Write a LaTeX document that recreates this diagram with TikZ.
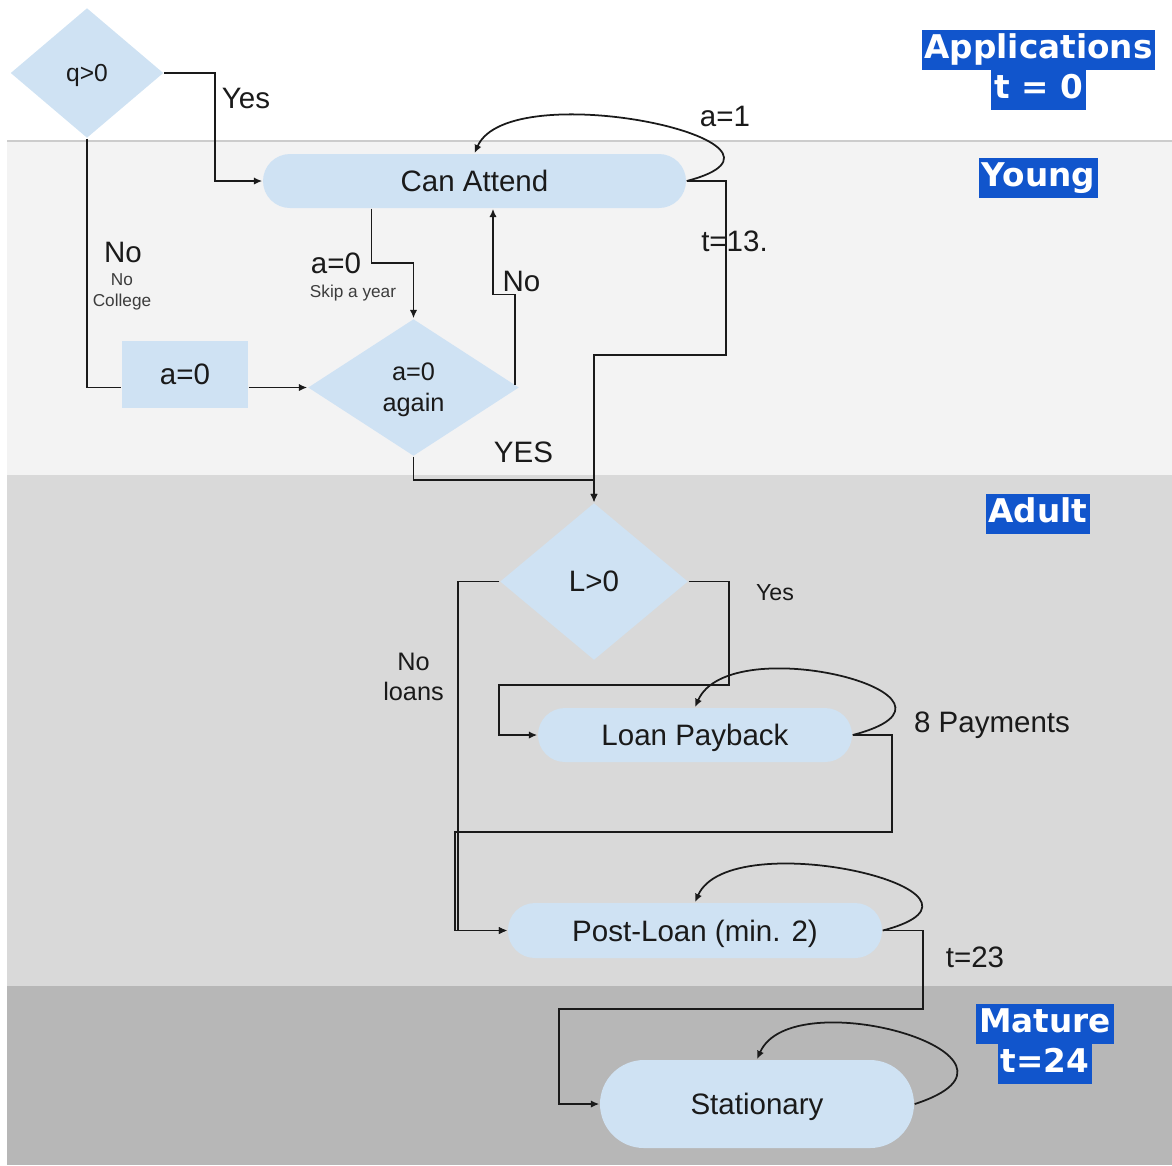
\documentclass[tikz,border=0pt]{standalone}
\usepackage{fontspec}
\setmainfont{Liberation Sans}
\newfontfamily\tagfont{DejaVu Sans}
\usetikzlibrary{arrows.meta, shapes.geometric}
\definecolor{boxfill}{HTML}{CFE2F3}
\definecolor{tagblue}{HTML}{1155CC}
\definecolor{bandyoung}{HTML}{F3F3F3}
\definecolor{bandadult}{HTML}{D9D9D9}
\definecolor{bandmature}{HTML}{B7B7B7}
\definecolor{bandedge}{HTML}{CCCCCC}
\definecolor{ink}{HTML}{1A1A1A}

\begin{document}
\begin{tikzpicture}[
    >={Latex[length=2.4pt,width=2.1pt]},
    arr/.style={->, line width=0.5pt, ink},
    ln/.style={line width=0.5pt, ink},
    % Rounded state box
    stadium/.style={rectangle, fill=boxfill, rounded corners=0.27cm,
                    minimum height=0.54cm, inner sep=0pt, text=ink, text depth=0pt,
                    font=\fontsize{8.4}{10}\selectfont},
    % Decision diamond
    decision/.style={diamond, fill=boxfill, inner sep=0pt, align=center, text=ink,
                     text depth=0pt, font=\fontsize{7.2}{8.8}\selectfont},
    % Blue period tag
    tag/.style={fill=tagblue, text=white, inner xsep=0.03cm, inner ysep=0.035cm,
                text height=0.25cm, text depth=0.08cm,
                font=\tagfont\bfseries\fontsize{9.3}{11}\selectfont},
    % Connector labels
    lbl/.style={text=ink, inner sep=0pt, text depth=0pt, font=\fontsize{8.4}{10}\selectfont},
    lblmid/.style={text=ink, inner sep=0pt, align=center, font=\fontsize{7.2}{8.5}\selectfont},
    lblsmall/.style={text=ink!85, inner sep=0pt, align=center, text depth=0pt,
                     font=\fontsize{4.9}{5.8}\selectfont}
]
\useasboundingbox (0,0) rectangle (11.72,-11.65);

% ---------- Period bands ----------
\fill[bandyoung] (0.07,-1.41) rectangle (11.72,-4.75);
\draw[bandedge, line width=0.6pt] (0.07,-1.41) -- (11.72,-1.41);
\fill[bandadult] (0.07,-4.75) rectangle (11.72,-9.86);
\fill[bandmature] (0.07,-9.86) rectangle (11.72,-11.65);

% ---------- Period tags ----------
\node[tag] at (10.385, -0.50) (tagapps) {Applications};
\node[tag] at ([yshift=-0.40cm]tagapps.center) (tagzero) {t = 0};
\node[tag] at (10.385, -1.78) (tagyoung) {Young};
\node[tag] at (10.38, -5.14) (tagadult) {Adult};
\node[tag] at (10.45, -10.24) (tagmature) {Mature};
\node[tag] at ([yshift=-0.40cm]tagmature.center) (tagtwentyfour) {t=24};

% ---------- States ----------
\node[decision, minimum width=1.53cm, minimum height=1.30cm,
      font=\fontsize{7}{8.4}\selectfont] at (0.87, -0.73) (qtest) {q>0};
\node[stadium, minimum width=4.23cm] at (4.745, -1.81) (attend) {Can Attend};
\node[rectangle, fill=boxfill, minimum width=1.26cm, minimum height=0.67cm, text=ink,
      font=\fontsize{8.4}{10}\selectfont] at (1.85, -3.745) (nocol) {a=0};
\node[decision, minimum width=2.11cm, minimum height=1.37cm] at (4.135, -3.875) (again) {a=0\\again};
\node[decision, minimum width=1.88cm, minimum height=1.57cm,
      font=\fontsize{8.4}{10}\selectfont] at (5.94, -5.815) (ltest) {L>0};
\node[stadium, minimum width=3.14cm] at (6.95, -7.35) (payback) {Loan Payback};
\node[stadium, minimum width=3.74cm, minimum height=0.55cm] at (6.95, -9.305) (postloan) {Post-Loan (min. 2)};
\node[stadium, minimum width=3.14cm, minimum height=0.88cm, rounded corners=0.44cm] at (7.57, -11.04) (stationary) {Stationary};

% ---------- Young: applications and attending ----------
\draw[arr] (qtest.east) -- ++(0.51,0) |- (attend.west);
\draw[ln] (qtest.south) |- (again.west -| nocol.west);
\draw[arr] (again.west -| nocol.east) -- (again.west);
\draw[arr] ([xshift=-1.03cm]attend.south) -- ++(0,-0.54) -| (again.north);
\draw[arr] ([xshift=-0.05cm, yshift=0.03cm]again.east) -- ++(0,0.90) -| ([xshift=0.185cm]attend.south);
\draw[arr] (again.south) -- ++(0,-0.23) -| (ltest.north);
\draw[arr] (attend.east) -- ++(0.395,0) -- ++(0,-1.74) -| (ltest.north);
\draw[arr] (attend.east) .. controls +(1.45,0.38) and +(0.35,0.80) .. (attend.north);

\node[lbl] at (2.46, -0.98) {Yes};
\node[lbl] at (1.23, -2.52) {No};
\node[lblsmall] at (1.22, -2.90) {No\\College};
\node[lbl] at (3.36, -2.63) {a=0};
\node[lblsmall] at (3.53, -2.91) {Skip a year};
\node[lbl] at (5.215, -2.81) {No};
\node[lbl] at (5.235, -4.52) {YES};
\node[lbl] at (7.345, -2.41) {t=13.};
\node[lbl] at (7.25, -1.16) {a=1};

% ---------- Adult: loans ----------
\draw[arr] (ltest.west) -- ++(-0.41,0) |- (postloan.west);
\draw[arr] (ltest.east) -- ++(0.40,0) -- ++(0,-1.035) -- ++(-2.30,0) |- (payback.west);
\draw[arr] (payback.east) .. controls +(1.45,0.38) and +(0.35,0.80) .. (payback.north);
\draw[arr] (payback.east) -- ++(0.39,0) -- ++(0,-0.97) -| ([xshift=-0.52cm]postloan.west) -- (postloan.west);
\draw[arr] (postloan.east) .. controls +(1.45,0.38) and +(0.35,0.80) .. (postloan.north);

\node[lblmid] at (4.135, -6.77) {No\\loans};
\node[lbl, font=\fontsize{6.6}{8}\selectfont] at (7.75, -5.92) {Yes};
\node[lbl] at (9.92, -7.22) {8 Payments};

% ---------- Mature ----------
\draw[arr] (postloan.east) -- ++(0.40,0) -- ++(0,-0.785) -| ([xshift=-0.40cm]stationary.west) -- (stationary.west);
\draw[arr] (stationary.east) .. controls +(1.45,0.47) and +(0.35,0.80) .. (stationary.north);

\node[lbl] at (9.75, -9.57) {t=23};

\end{tikzpicture}
\end{document}
